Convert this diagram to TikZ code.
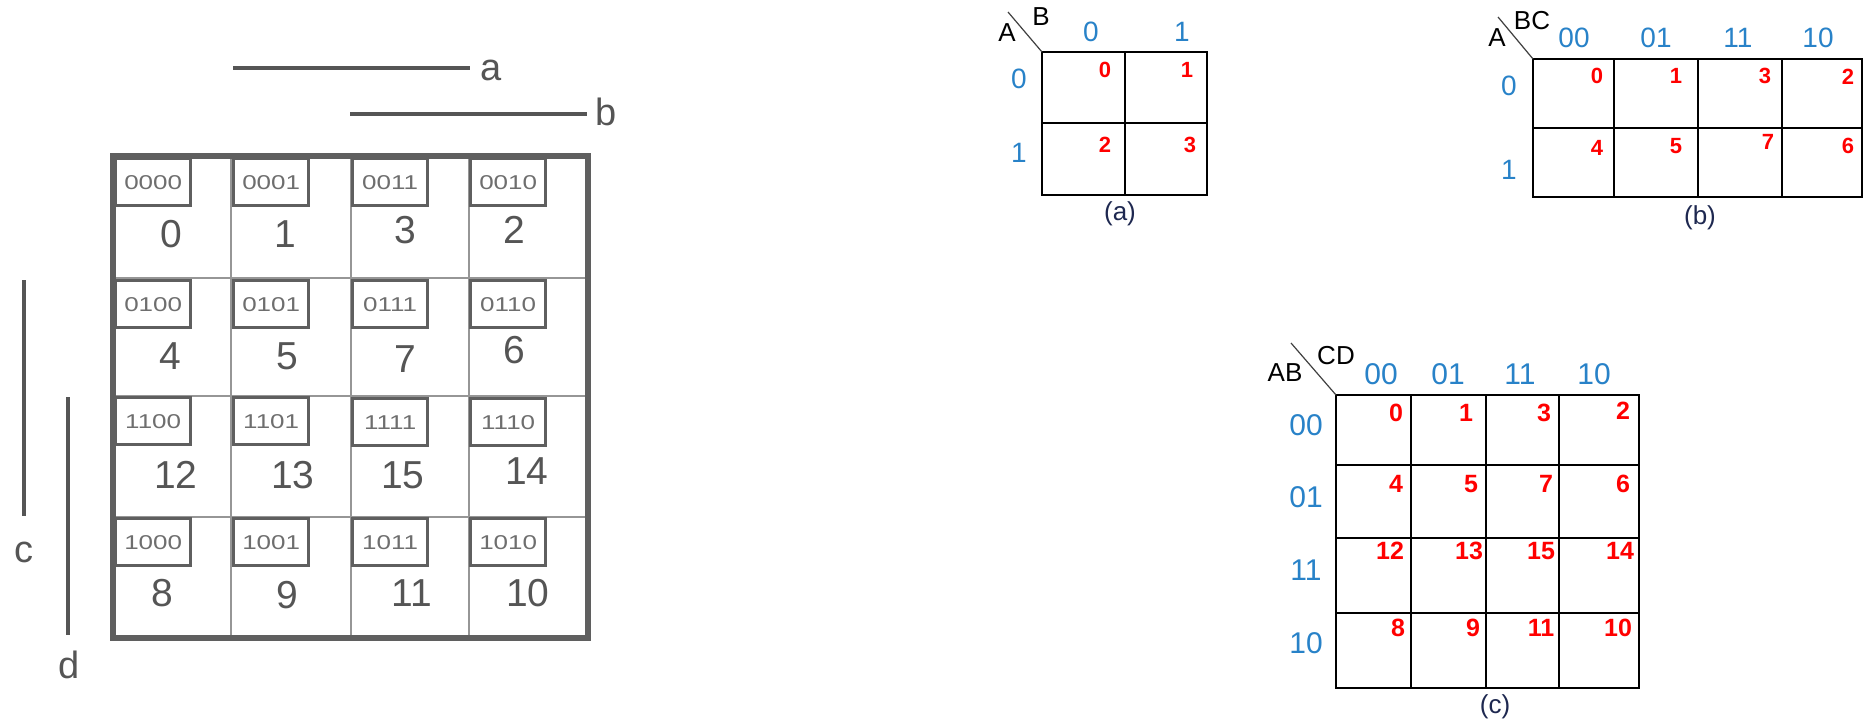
\documentclass[tikz,border=0pt]{standalone}
\usepackage{fontspec}
\setmainfont{Liberation Sans}
\newfontfamily\codefont[FakeStretch=1.3]{Liberation Sans}
\definecolor{hdrblue}{RGB}{40,130,200}
\definecolor{numred}{RGB}{255,0,0}
\definecolor{lgray}{RGB}{85,85,85}
\definecolor{mgray}{RGB}{95,95,95}
\definecolor{igray}{RGB}{150,150,150}
\definecolor{capnavy}{RGB}{30,40,80}
\tikzset{
  lnum/.style={font=\fontsize{19.5}{20}\selectfont, text=lgray, inner sep=0pt},
  lvar/.style={font=\fontsize{19}{19}\selectfont, text=lgray, inner sep=0pt},
  codebox/.style={draw=mgray, line width=1.7pt, font=\codefont\fontsize{10}{10}\selectfont, text=lgray!85,
    minimum width=37.5pt, minimum height=23.5pt, inner sep=0pt, anchor=north west},
  varline/.style={draw=lgray, line width=2.2pt},
  outerbox/.style={draw=mgray, line width=2.6pt},
  innerline/.style={draw=igray, line width=0.9pt},
  gridline/.style={draw=black, line width=0.8pt},
  diagline/.style={draw=black!75, line width=0.6pt},
  axlbl/.style={font=\fontsize{13}{13}\selectfont, text=black, inner sep=0pt},
  hdr/.style={font=\fontsize{14}{14}\selectfont, text=hdrblue, inner sep=0pt},
  hdrc/.style={font=\fontsize{15}{15}\selectfont, text=hdrblue, inner sep=0pt},
  rnum/.style={font=\bfseries\fontsize{11}{11}\selectfont, text=numred, inner sep=0pt},
  rnumc/.style={font=\bfseries\fontsize{12.5}{13}\selectfont, text=numred, inner sep=0pt},
  caption/.style={font=\fontsize{13}{13}\selectfont, text=capnavy, inner sep=0pt},
}
\begin{document}
\begin{tikzpicture}[x=0.5pt,y=-0.5pt]
\path[use as bounding box] (0,0) rectangle (1870,723);

% ---------------- left map ----------------
\draw[innerline] (231,156) -- (231,638) (351,156) -- (351,638) (469,156) -- (469,638);
\draw[innerline] (113,278) -- (588,278) (113,396) -- (588,396) (113,517) -- (588,517);

\node[codebox] (k0000) at (114,157) {0000};
\node[codebox] (k0001) at (232,157) {0001};
\node[codebox] (k0011) at (351,157) {0011};
\node[codebox] (k0010) at (469,157) {0010};
\node[codebox] (k0100) at (114,279) {0100};
\node[codebox] (k0101) at (232,279) {0101};
\node[codebox] (k0111) at (351,279) {0111};
\node[codebox] (k0110) at (469,279) {0110};
\node[codebox] (k1100) at (114,396) {1100};
\node[codebox] (k1101) at (232,396) {1101};
\node[codebox] (k1111) at (351,397) {1111};
\node[codebox] (k1110) at (469,397) {1110};
\node[codebox] (k1000) at (114,517) {1000};
\node[codebox] (k1001) at (232,517) {1001};
\node[codebox] (k1011) at (351,517) {1011};
\node[codebox] (k1010) at (469,517) {1010};
\draw[outerbox] (113,156) rectangle (588,638);

\node[lnum] (n0) at (171,234) {0};
\node[lnum] (n1) at (285,234) {1};
\node[lnum] (n3) at (405,230) {3};
\node[lnum] (n2) at (514,230) {2};
\node[lnum] (n4) at (170,356) {4};
\node[lnum] (n5) at (287,356) {5};
\node[lnum] (n7) at (405,359) {7};
\node[lnum] (n6) at (514,350) {6};
\node[lnum] (n12) at (176,475) {12};
\node[lnum] (n13) at (293,475) {13};
\node[lnum] (n15) at (403,475) {15};
\node[lnum] (n14) at (527,471) {14};
\node[lnum] (n8) at (162,593) {8};
\node[lnum] (n9) at (287,595) {9};
\node[lnum] (n11) at (412,593) {11};
\node[lnum] (n10) at (528,593) {10};

\coordinate (a1) at (233,68); \coordinate (a2) at (470,68);
\coordinate (b1) at (350,114); \coordinate (b2) at (587,114);
\coordinate (c1) at (24,280); \coordinate (c2) at (24,516);
\coordinate (d1) at (68,397); \coordinate (d2) at (68,635);
\draw[varline] (a1) -- (a2);
\draw[varline] (b1) -- (b2);
\draw[varline] (c1) -- (c2);
\draw[varline] (d1) -- (d2);
\node[lvar, anchor=base west] (la) at (480,80) {a};
\node[lvar, anchor=base west] (lb) at (595,125) {b};
\node[lvar, anchor=base] (lc) at (24,562) {c};
\node[lvar, anchor=base] (ld) at (69,678) {d};

% ---------------- (a) ----------------
\draw[gridline] (1042,52) rectangle (1207,195);
\draw[gridline] (1125,52) -- (1125,195) (1042,123) -- (1207,123);
\coordinate (ad1) at (1008,12); \coordinate (ad2) at (1042,52);
\draw[diagline] (ad1) -- (ad2);
\node[axlbl] (aA) at (1007,33) {A};
\node[axlbl] (aB) at (1041,17) {B};
\node[hdr] (ac0) at (1091,32) {0};
\node[hdr] (ac1) at (1182,32) {1};
\node[hdr] (ar0) at (1019,79) {0};
\node[hdr] (ar1) at (1019,153) {1};
\node[rnum] (am0) at (1105,70) {0};
\node[rnum] (am1) at (1187,70) {1};
\node[rnum] (am2) at (1105,145) {2};
\node[rnum] (am3) at (1190,145) {3};
\node[caption] (capa) at (1120,214) {(a)};

% ---------------- (b) ----------------
\draw[gridline] (1533,59) rectangle (1862,197);
\draw[gridline] (1614,59) -- (1614,197) (1698,59) -- (1698,197) (1782,59) -- (1782,197) (1533,128) -- (1862,128);
\coordinate (bd1) at (1498,17); \coordinate (bd2) at (1533,59);
\draw[diagline] (bd1) -- (bd2);
\node[axlbl] (bA) at (1497,38) {A};
\node[axlbl] (bBC) at (1532,21) {BC};
\node[hdr] (bc00) at (1574,38) {00};
\node[hdr] (bc01) at (1656,38) {01};
\node[hdr] (bc11) at (1738,38) {11};
\node[hdr] (bc10) at (1818,38) {10};
\node[hdr] (br0) at (1509,86) {0};
\node[hdr] (br1) at (1509,170) {1};
\node[rnum] (bm0) at (1597,76) {0};
\node[rnum] (bm1) at (1676,76) {1};
\node[rnum] (bm3) at (1765,76) {3};
\node[rnum] (bm2) at (1848,77) {2};
\node[rnum] (bm4) at (1597,148) {4};
\node[rnum] (bm5) at (1676,146) {5};
\node[rnum] (bm7) at (1768,142) {7};
\node[rnum] (bm6) at (1848,146) {6};
\node[caption] (capb) at (1700,218) {(b)};

% ---------------- (c) ----------------
\draw[gridline] (1336,395) rectangle (1639,688);
\draw[gridline] (1411,395) -- (1411,688) (1486,395) -- (1486,688) (1559,395) -- (1559,688);
\draw[gridline] (1336,465) -- (1639,465) (1336,538) -- (1639,538) (1336,613) -- (1639,613);
\coordinate (cd1) at (1291,343); \coordinate (cd2) at (1336,395);
\draw[diagline] (cd1) -- (cd2);
\node[axlbl] (cAB) at (1285,373) {AB};
\node[axlbl] (cCD) at (1336,356) {CD};
\node[hdrc] (cc00) at (1381,374) {00};
\node[hdrc] (cc01) at (1448,374) {01};
\node[hdrc] (cc11) at (1520,374) {11};
\node[hdrc] (cc10) at (1594,374) {10};
\node[hdrc] (cr00) at (1306,425) {00};
\node[hdrc] (cr01) at (1306,497) {01};
\node[hdrc] (cr11) at (1306,570) {11};
\node[hdrc] (cr10) at (1306,643) {10};
\node[rnumc] (cm0) at (1396,413) {0};
\node[rnumc] (cm1) at (1466,413) {1};
\node[rnumc] (cm3) at (1544,413) {3};
\node[rnumc] (cm2) at (1623,411) {2};
\node[rnumc] (cm4) at (1396,484) {4};
\node[rnumc] (cm5) at (1471,484) {5};
\node[rnumc] (cm7) at (1546,484) {7};
\node[rnumc] (cm6) at (1623,484) {6};
\node[rnumc] (cm12) at (1390,551) {12};
\node[rnumc] (cm13) at (1469,551) {13};
\node[rnumc] (cm15) at (1541,551) {15};
\node[rnumc] (cm14) at (1620,551) {14};
\node[rnumc] (cm8) at (1398,628) {8};
\node[rnumc] (cm9) at (1473,628) {9};
\node[rnumc] (cm11) at (1541,628) {11};
\node[rnumc] (cm10) at (1618,628) {10};
\node[caption] (capc) at (1495,707) {(c)};
\end{tikzpicture}
\end{document}
